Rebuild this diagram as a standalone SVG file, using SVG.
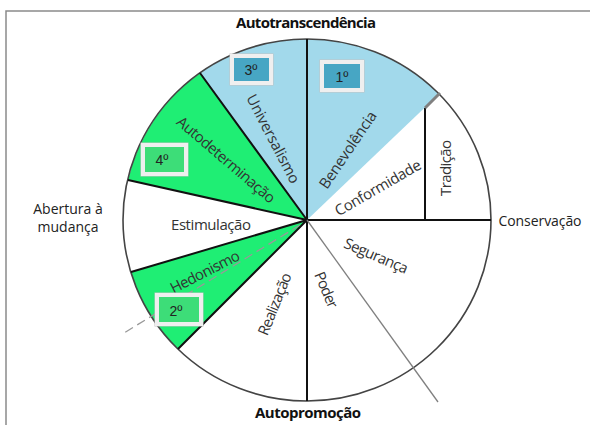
<svg xmlns="http://www.w3.org/2000/svg" width="590" height="425" viewBox="0 0 590 425">
<style>
.blue{fill:#a2d9eb}
.green{fill:#1fee74}
.spoke{stroke:#111;stroke-width:2;fill:none}
.lbl{font-family:"Open Sans","Noto Sans",sans-serif;font-size:15px;fill:#333;text-anchor:middle}
.title{font-family:"Open Sans","Noto Sans",sans-serif;font-size:15px;font-weight:bold;fill:#111;text-anchor:middle}
.side{font-family:"Open Sans","Noto Sans",sans-serif;font-size:14px;fill:#222;text-anchor:middle}
.box{stroke:#efefef;stroke-width:4}
.boxo{fill:none;stroke:#c4c4c4;stroke-width:1}
.num{font-family:"Liberation Sans",Arial,sans-serif;font-size:14px;fill:#222;text-anchor:middle}
</style>
<rect width="590" height="425" fill="#fff"/>
<g id="frame"><path d="M6,425 V11 H590" fill="none" stroke="#8a8a8a" stroke-width="1.5"/></g>
<g id="wedges">
<path id="universalismo" class="blue" d="M307,220 L200,73 A184,181 0 0 1 307,39 Z"/>
<path id="benevolencia" class="blue" d="M307,220 L307,39 A184,181 0 0 1 439,94 Z"/>
<path id="autodeterminacao" class="green" d="M307,220 L128,180 A184,181 0 0 1 200,73 Z"/>
<path id="hedonismo" class="green" d="M307,220 L178,349 A184,181 0 0 1 131,272 Z"/>
</g>
<g id="connectors">
<ellipse cx="307" cy="220" rx="184" ry="181" fill="none" stroke="#444" stroke-width="1.6"/>
<path class="spoke" d="M307,39 V401 M307,220 H491 M307,220 L200,73 M307,220 L128,180 M307,220 L131,272 M307,220 L178,349 M425,108 V220"/>
<path d="M425,108 L440,93" stroke="#808080" stroke-width="3" fill="none"/>
<path d="M307,220 L438,402" stroke="#808080" stroke-width="1.3" fill="none"/>
<path d="M300,225 L124,333" stroke="#999" stroke-width="1.3" stroke-dasharray="9,5" fill="none"/>
</g>
<g id="labels">
<text class="lbl" transform="translate(273,139) rotate(62.5)" textLength="98" dy="5">Universalismo</text>
<text class="lbl" transform="translate(348,150) rotate(-56)" textLength="90" dy="5">Benevolência</text>
<text class="lbl" transform="translate(226,160) rotate(40.5)" textLength="124" dy="5">Autodeterminação</text>
<text class="lbl" transform="translate(378,188) rotate(-30)" textLength="97" dy="5">Conformidade</text>
<text class="lbl" transform="translate(446,168) rotate(-90)" textLength="56" dy="5">Tradição</text>
<text class="lbl" x="211" y="230" textLength="80">Estimulação</text>
<text class="lbl" transform="translate(205,272) rotate(-27)" textLength="76" dy="5">Hedonismo</text>
<text class="lbl" transform="translate(275,304) rotate(-68)" textLength="66" dy="5">Realização</text>
<text class="lbl" transform="translate(326,290) rotate(67)" textLength="38" dy="5">Poder</text>
<text class="lbl" transform="translate(376,256) rotate(23)" textLength="68" dy="5">Segurança</text>
</g>
<g id="titles">
<text class="title" x="306" y="28" textLength="140">Autotranscendência</text>
<text class="title" x="308" y="418" textLength="106">Autopromoção</text>
<text class="side" x="68" y="214">Abertura à</text>
<text class="side" x="68" y="232">mudança</text>
<text class="side" x="540" y="226" textLength="83">Conservação</text>
</g>
<g id="box3"><rect class="boxo" x="230" y="54" width="43" height="31"/><rect class="box" x="232" y="56" width="39" height="27" fill="#47a6c4"/><text class="num" x="251" y="75">3º</text></g>
<g id="box1"><rect class="boxo" x="320" y="60" width="44" height="32"/><rect class="box" x="322" y="62" width="40" height="28" fill="#47a6c4"/><text class="num" x="342" y="82">1º</text></g>
<g id="box4"><rect class="boxo" x="141" y="143" width="47" height="33"/><rect class="box" x="143" y="145" width="43" height="29" fill="#3ddd78"/><text class="num" x="162" y="165">4º</text></g>
<g id="box2"><rect class="boxo" x="155" y="293" width="48" height="33"/><rect class="box" x="157" y="295" width="44" height="29" fill="#3ddd78"/><text class="num" x="176" y="316">2º</text></g>
</svg>
